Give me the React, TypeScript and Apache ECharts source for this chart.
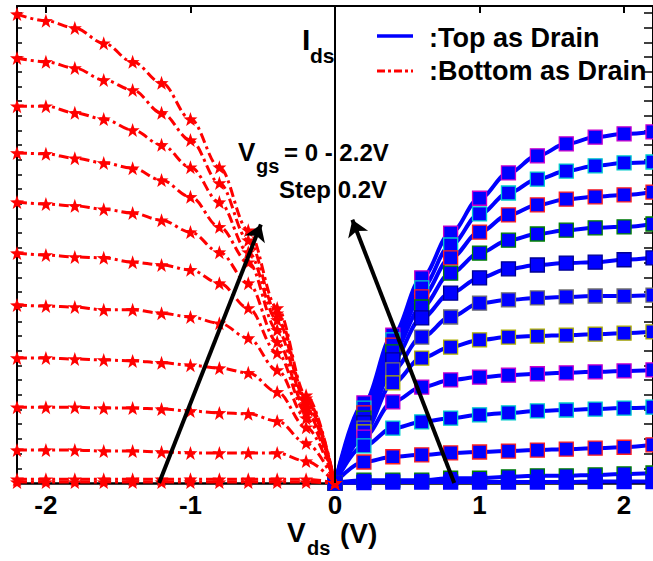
import React, { useEffect, useRef } from 'react';
import * as echarts from 'echarts';

// Vds sample points (V)
const VDS_NEG = [-2.2, -2.0, -1.8, -1.6, -1.4, -1.2, -1.0, -0.8, -0.6, -0.4, -0.2, 0];
const VDS_POS = [0, 0.2, 0.4, 0.6, 0.8, 1.0, 1.2, 1.4, 1.6, 1.8, 2.0, 2.2];

// Top as Drain (blue) Ids, Vgs = 2.2 V ... 0 V (arbitrary units)
const top22 = [0, 16.8, 31.0, 43.0, 52.4, 59.7, 65.0, 68.6, 71.1, 72.5, 73.2, 73.6];
const top20 = [0, 15.7, 30.0, 40.9, 49.9, 56.4, 60.8, 63.7, 65.4, 66.5, 67.1, 67.3];
const top18 = [0, 14.7, 28.9, 39.0, 47.2, 52.6, 56.2, 58.3, 59.5, 60.0, 60.4, 61.0];
const top16 = [0, 13.6, 27.5, 36.9, 44.0, 48.2, 50.9, 52.2, 53.0, 53.5, 53.7, 54.3];
const top14 = [0, 12.6, 25.8, 34.6, 39.8, 43.0, 44.9, 45.7, 46.1, 46.3, 46.8, 47.2];
const top12 = [0, 11.5, 23.7, 30.6, 34.8, 37.7, 38.4, 38.8, 39.0, 39.2, 39.2, 39.4];
const top10 = [0, 10.7, 21.0, 26.2, 28.5, 30.0, 30.6, 30.8, 31.0, 31.2, 31.4, 31.7];
const top08 = [0, 9.6, 17.0, 20.1, 21.6, 22.2, 22.6, 22.9, 23.1, 23.3, 23.5, 23.7];
const top06 = [0, 7.8, 11.5, 12.8, 13.6, 14.3, 14.7, 15.1, 15.3, 15.5, 15.7, 15.9];
const top04 = [0, 4.4, 5.5, 5.9, 6.3, 6.5, 6.7, 6.9, 7.1, 7.3, 7.5, 8.0];
const top02 = [0, 0.6, 0.6, 0.6, 1.0, 1.0, 1.3, 1.5, 1.5, 1.7, 1.9, 2.1];
const top00 = [0, 0.1, 0.2, 0.2, 0.2, 0.2, 0.2, 0.2, 0.2, 0.3, 0.3, 0.3];

// Bottom as Drain (red) Ids, Vgs = 2.2 V ... 0 V
const bot22 = [98.3, 96.9, 95.4, 92.2, 88.3, 83.9, 76.3, 66.2, 53.0, 36.7, 18.4, 0];
const bot20 = [89.1, 88.3, 87.0, 84.5, 82.4, 77.6, 71.9, 62.9, 50.9, 35.6, 17.8, 0];
const bot18 = [79.0, 79.0, 77.6, 76.3, 74.0, 70.9, 66.2, 58.9, 48.4, 34.2, 17.2, 0];
const bot16 = [69.2, 69.0, 68.1, 67.1, 66.0, 63.5, 60.0, 53.7, 46.3, 32.1, 16.6, 0];
const bot14 = [58.9, 58.5, 58.1, 57.4, 56.6, 55.1, 52.6, 48.4, 41.9, 29.6, 15.7, 0];
const bot12 = [48.2, 47.8, 47.4, 47.2, 46.3, 45.7, 44.7, 41.9, 36.7, 27.3, 14.9, 0];
const bot10 = [37.3, 37.1, 36.9, 36.3, 36.3, 35.6, 34.8, 33.5, 30.4, 23.7, 13.6, 0];
const bot08 = [26.2, 26.2, 26.0, 25.8, 25.6, 25.2, 24.7, 24.1, 23.1, 19.1, 11.7, 0];
const bot06 = [15.9, 15.9, 15.9, 15.7, 15.7, 15.5, 15.1, 14.7, 14.5, 13.0, 8.4, 0];
const bot04 = [6.9, 6.9, 6.9, 6.7, 6.7, 6.5, 6.3, 6.3, 6.3, 6.3, 4.6, 0];
const bot02 = [0.8, 0.8, 0.8, 0.8, 0.8, 0.8, 0.8, 0.8, 0.8, 0.8, 0.8, 0];
const bot00 = [0.2, 0.2, 0.2, 0.2, 0.2, 0.2, 0.2, 0.2, 0.2, 0.2, 0.2, 0];

const TOP_CURVES = [top22, top20, top18, top16, top14, top12, top10, top08, top06, top04, top02, top00];
const BOT_CURVES = [bot22, bot20, bot18, bot16, bot14, bot12, bot10, bot08, bot06, bot04, bot02, bot00];
const TOP_BORDERS = ['#CC00CC', '#00CCCC', '#FF2020', '#008000', '#000090', '#707070', '#B0B000', '#CC00CC', '#00CCCC', '#FF2020', '#008000', '#0000FF'];

const X_TICKS = [-2, -1, 0, 1, 2];

// annotation arrows (data coordinates: Vds, Ids)
const ARROW_STARTS = [[-1.217, 0], [0.825, 0]];
const ARROW_ENDS = [[-0.513, 54.2], [0.12, 55.2]];

const STAR = 'path://M0,-10L2.35,-3.24L9.51,-3.09L3.8,1.24L5.88,8.09L0,4L-5.88,8.09L-3.8,1.24L-9.51,-3.09L-2.35,-3.24Z';
const FONT = "'Liberation Sans', Arial, Helvetica, sans-serif";

function txt(text: string, x: number, y: number, size: number) {
  return {
    type: 'text',
    x,
    y,
    z: 100,
    silent: true,
    style: {
      text,
      fill: '#000',
      font: `bold ${size}px ${FONT}`,
      textAlign: 'left',
      align: 'left',
      textVerticalAlign: 'middle',
      verticalAlign: 'middle',
    },
  };
}

export default function App() {
  const ref = useRef<HTMLDivElement>(null);
  useEffect(() => {
    if (!ref.current) return;
    const chart = echarts.init(ref.current, null, { renderer: 'svg' });

    const blueSeries = TOP_CURVES.map((d, i) => ({
      type: 'line',
      name: 'Top as Drain',
      data: VDS_POS.map((x, j) => [x, d[j]]),
      smooth: 0.35,
      smoothMonotone: 'x',
      symbol: 'rect',
      symbolSize: 14,
      lineStyle: { color: '#0000FF', width: 4 },
      itemStyle: { color: '#0000FF', borderColor: TOP_BORDERS[i], borderWidth: 1.3 },
      emphasis: { disabled: true },
      silent: true,
      z: 2,
    }));

    const redSeries = BOT_CURVES.map((d) => ({
      type: 'line',
      name: 'Bottom as Drain',
      data: VDS_NEG.map((x, j) => [x, d[j]]),
      smooth: 0.35,
      smoothMonotone: 'x',
      symbol: STAR,
      symbolSize: 14,
      lineStyle: { color: '#FF0000', width: 3, type: [10, 4, 3, 4] },
      itemStyle: { color: '#FF0000', borderWidth: 0 },
      emphasis: { disabled: true },
      silent: true,
      z: 3,
    }));

    const annot = [
      {
        type: 'line',
        data: [],
        silent: true,
        z: 4,
        markLine: {
          silent: true,
          symbol: ['none', 'none'],
          label: { show: false },
          lineStyle: { color: '#000', width: 2, type: 'solid' },
          data: [{ xAxis: 0 }],
        },
      },
      {
        type: 'line',
        data: [],
        silent: true,
        z: 6,
        markLine: {
          silent: true,
          symbol: ['none', 'arrow'],
          symbolSize: 16,
          label: { show: false },
          lineStyle: { color: '#000', width: 4, type: 'solid' },
          data: ARROW_STARTS.map((s, i) => [{ coord: s }, { coord: ARROW_ENDS[i] }]),
        },
      },
    ];

    const axisLineStyle = { color: '#000', width: 2.5 };

    chart.setOption({
      animation: false,
      backgroundColor: '#fff',
      grid: { left: 17, right: -4, top: 6, bottom: 78, containLabel: false },
      xAxis: [
        {
          type: 'value',
          min: -2.2,
          max: 2.2,
          position: 'bottom',
          axisLine: { onZero: false, lineStyle: axisLineStyle },
          axisTick: { inside: true, length: 6, customValues: X_TICKS, lineStyle: { color: '#000', width: 2 } },
          axisLabel: {
            customValues: X_TICKS,
            fontSize: 26,
            fontWeight: 'bold',
            fontFamily: FONT,
            color: '#000',
            margin: 9,
          },
          splitLine: { show: false },
        },
        {
          type: 'value',
          min: -2.2,
          max: 2.2,
          position: 'top',
          axisLine: { onZero: false, lineStyle: { color: '#000', width: 2 } },
          axisTick: { inside: true, length: 7, customValues: X_TICKS, lineStyle: { color: '#000', width: 2 } },
          axisLabel: { show: false },
          splitLine: { show: false },
        },
      ],
      yAxis: [
        {
          type: 'value',
          min: 0,
          max: 100,
          interval: 3.08,
          position: 'left',
          axisLine: { onZero: false, lineStyle: { color: '#000', width: 2 } },
          axisTick: { inside: true, length: 5, lineStyle: { color: '#000', width: 1.5 } },
          axisLabel: { show: false },
          splitLine: { show: false },
        },
        {
          type: 'value',
          min: 0,
          max: 100,
          interval: 3.08,
          position: 'right',
          axisLine: { onZero: false, lineStyle: { color: '#000', width: 2 } },
          axisTick: { inside: true, length: 9, lineStyle: { color: '#000', width: 1.5 } },
          axisLabel: { show: false },
          splitLine: { show: false },
        },
      ],
      series: [...blueSeries, ...redSeries, ...annot],
      graphic: [
        // y axis name I_ds
        txt('I', 302, 39, 30),
        txt('ds', 310, 55, 21),
        // x axis name V_ds (V)
        txt('V', 287, 532, 28),
        txt('ds', 307, 548, 20),
        txt('(V)', 340, 533, 28),
        // Vgs annotation
        txt('V', 238, 152, 26),
        txt('gs', 256, 166, 20),
        txt('= 0 - 2.2V', 284, 152, 24),
        txt('Step 0.2V', 279, 189, 24),
        // legend
        {
          type: 'line',
          z: 100,
          silent: true,
          shape: { x1: 377, y1: 36, x2: 413, y2: 36 },
          style: { stroke: '#0000FF', lineWidth: 3.5 },
        },
        {
          type: 'line',
          z: 100,
          silent: true,
          shape: { x1: 377, y1: 71, x2: 413, y2: 71 },
          style: { stroke: '#FF0000', lineWidth: 3, lineDash: [8, 3, 3, 3] },
        },
        txt(':Top as Drain', 429, 38, 27),
        txt(':Bottom as Drain', 429, 71, 27),
      ],
    });

    return () => chart.dispose();
  }, []);

  return (
    <div
      ref={ref}
      style={{ position: 'fixed', left: 0, top: 0, width: 653, height: 561, background: '#fff' }}
    />
  );
}
